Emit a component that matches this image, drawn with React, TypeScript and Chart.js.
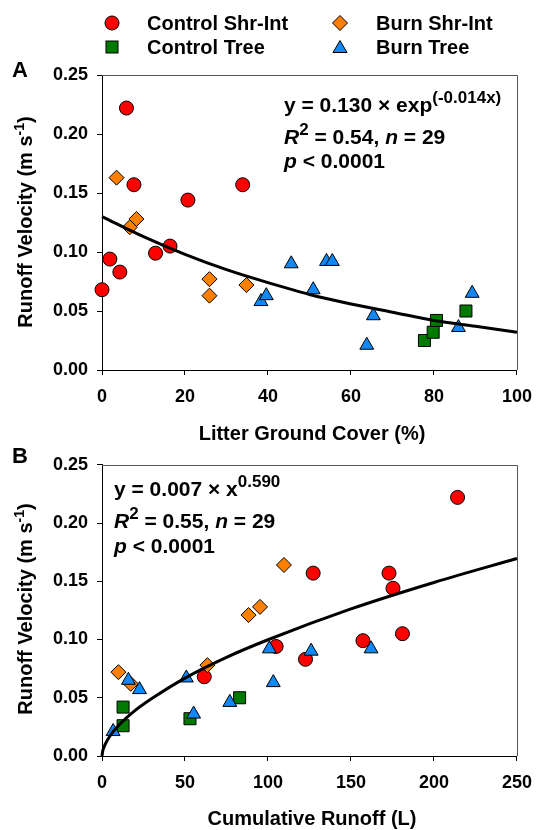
import React, { useEffect, useRef } from "react";
import { Chart, registerables } from "chart.js";

Chart.register(...registerables);

const FONT = "'Liberation Sans', Arial, Helvetica, sans-serif";

// ---------- Series names & colours ----------
const seriesNames = ["Control Shr-Int", "Burn Shr-Int", "Control Tree", "Burn Tree"];
const seriesColors = ["#ff0000", "#ff8000", "#007a00", "#1188f5"];

// ---------- Panel A: Litter ground cover (%) vs runoff velocity ----------
const aCtrlShrX = [0, 1.9, 4.3, 5.9, 7.7, 12.9, 16.4, 20.7, 33.9];
const aCtrlShrY = [0.068, 0.094, 0.083, 0.222, 0.157, 0.099, 0.105, 0.144, 0.157];
const aBurnShrX = [3.5, 6.7, 8.3, 25.9, 25.9, 34.8];
const aBurnShrY = [0.163, 0.121, 0.128, 0.077, 0.063, 0.072];
const aCtrlTreeX = [77.7, 79.8, 80.6, 87.7];
const aCtrlTreeY = [0.025, 0.032, 0.042, 0.05];
const aBurnTreeX = [38.3, 39.6, 45.6, 50.9, 54.1, 55.5, 63.8, 65.4, 85.9, 89.2];
const aBurnTreeY = [0.058, 0.063, 0.09, 0.068, 0.092, 0.092, 0.021, 0.046, 0.036, 0.065];
// fitted curve
const fitAX = [0, 10, 20, 30, 40, 50, 60, 70, 80, 90, 100];
const fitAY = [0.13, 0.113, 0.098, 0.085, 0.074, 0.064, 0.056, 0.049, 0.042, 0.037, 0.032];

// ---------- Panel B: Cumulative runoff (L) vs runoff velocity ----------
const bCtrlShrX = [61.6, 104.9, 122.6, 127.2, 157.2, 172.9, 175.3, 181.0, 214.2];
const bCtrlShrY = [0.068, 0.094, 0.083, 0.157, 0.099, 0.157, 0.144, 0.105, 0.222];
const bBurnShrX = [9.9, 17.3, 63.5, 88.3, 95.2, 109.6];
const bBurnShrY = [0.072, 0.062, 0.078, 0.121, 0.128, 0.164];
const bCtrlTreeX = [12.7, 12.7, 53.0, 82.9];
const bCtrlTreeY = [0.042, 0.026, 0.032, 0.05];
const bBurnTreeX = [6.7, 15.9, 22.6, 50.8, 55.2, 77.0, 100.8, 103.2, 126.0, 162.1];
const bBurnTreeY = [0.021, 0.065, 0.057, 0.067, 0.036, 0.046, 0.092, 0.063, 0.09, 0.092];
// fitted curve
const fitBX = [0, 0.5, 1, 2, 5, 10, 20, 30, 50, 75, 100, 150, 200, 250];
const fitBY = [0, 0.0047, 0.0069, 0.0103, 0.0176, 0.0262, 0.0391, 0.0493, 0.0669, 0.0847, 0.0998, 0.1263, 0.149, 0.1695];

// ---------- Axis ticks ----------
const yTicks = [0, 0.05, 0.1, 0.15, 0.2, 0.25];
const xTicksA = [0, 20, 40, 60, 80, 100];
const xTicksB = [0, 50, 100, 150, 200, 250];

const toPts = (xs: number[], ys: number[]) => xs.map((x, i) => ({ x, y: ys[i] }));

const framePlugin = {
  id: "frame",
  beforeDatasetsDraw(chart: any) {
    const { ctx, chartArea } = chart;
    const { left, right, top, bottom } = chartArea;
    ctx.save();
    ctx.strokeStyle = "#555";
    ctx.lineWidth = 1;
    ctx.beginPath();
    ctx.moveTo(left, Math.round(top) + 0.5);
    ctx.lineTo(Math.round(right) + 0.5, Math.round(top) + 0.5);
    ctx.lineTo(Math.round(right) + 0.5, bottom);
    ctx.stroke();
    ctx.restore();
  },
};

function buildConfig(
  sets: { x: number[]; y: number[] }[],
  fitX: number[],
  fitY: number[],
  xTicks: number[],
  padTop: number,
  xHeight: number
): any {
  const styles = ["circle", "rectRot", "rect", "triangle"];
  const radii = [7, 7.5, 8.5, 8];
  const orders = [4, 2, 3, 1];
  const datasets: any[] = sets.map((s, i) => ({
    label: seriesNames[i],
    data: toPts(s.x, s.y),
    pointStyle: styles[i],
    pointRadius: radii[i],
    pointBackgroundColor: seriesColors[i],
    pointBorderColor: "#000",
    pointBorderWidth: 1,
    showLine: false,
    clip: false,
    order: orders[i],
  }));
  datasets.push({
    label: "fit",
    data: toPts(fitX, fitY),
    showLine: true,
    borderColor: "#000",
    borderWidth: 3,
    pointRadius: 0,
    cubicInterpolationMode: "monotone",
    clip: false,
    order: 0,
  });
  const tickFont = { family: FONT, size: 18, weight: "bold" as const };
  return {
    type: "scatter",
    data: { datasets },
    options: {
      animation: false,
      responsive: false,
      events: [],
      layout: { padding: { top: padTop, right: 21, bottom: 0, left: 0 } },
      plugins: { legend: { display: false }, tooltip: { enabled: false } },
      scales: {
        x: {
          type: "linear",
          min: xTicks[0],
          max: xTicks[xTicks.length - 1],
          afterBuildTicks: (s: any) => {
            s.ticks = xTicks.map((v) => ({ value: v }));
          },
          afterFit: (s: any) => {
            s.height = xHeight;
          },
          ticks: { font: tickFont, color: "#000", padding: 11, maxRotation: 0, autoSkip: false },
          grid: { drawOnChartArea: false, drawTicks: true, tickLength: 5, color: "#000", tickColor: "#000" },
          border: { display: true, color: "#000", width: 1 },
        },
        y: {
          type: "linear",
          min: yTicks[0],
          max: yTicks[yTicks.length - 1],
          afterBuildTicks: (s: any) => {
            s.ticks = yTicks.map((v) => ({ value: v }));
          },
          afterFit: (s: any) => {
            s.width = 102;
          },
          ticks: {
            font: tickFont,
            color: "#000",
            padding: 9,
            autoSkip: false,
            callback: (v: any) => Number(v).toFixed(2),
          },
          grid: { drawOnChartArea: false, drawTicks: true, tickLength: 5, color: "#000", tickColor: "#000" },
          border: { display: true, color: "#000", width: 1 },
        },
      },
    },
    plugins: [framePlugin],
  };
}

const abs = (left: number, top: number, extra: React.CSSProperties = {}): React.CSSProperties => ({
  position: "absolute",
  left,
  top,
  whiteSpace: "nowrap",
  ...extra,
});

function Marker({ kind, color }: { kind: number; color: string }) {
  const common = { fill: color, stroke: "#000", strokeWidth: 1 };
  let shape: React.ReactNode;
  if (kind === 0) shape = <circle cx={9} cy={9} r={7} {...common} />;
  else if (kind === 1) shape = <polygon points="9,1.5 16.5,9 9,16.5 1.5,9" {...common} />;
  else if (kind === 2) shape = <rect x={3} y={3} width={12} height={12} {...common} />;
  else shape = <polygon points="9,2.5 16,14.5 2,14.5" {...common} />;
  return (
    <svg width={18} height={18} style={{ display: "block" }}>
      {shape}
    </svg>
  );
}

const legendPos = [
  { mx: 112, tx: 147, y: 23 },
  { mx: 340, tx: 376, y: 23 },
  { mx: 112, tx: 147, y: 47 },
  { mx: 340, tx: 376, y: 47 },
];

const EQ = 21;
const supStyle: React.CSSProperties = { fontSize: 17, position: "relative", top: -9 };

function EqLine({ left, cy, children }: { left: number; cy: number; children: React.ReactNode }) {
  return (
    <div style={abs(left, cy - 12, { height: 24, lineHeight: "24px", fontSize: EQ, fontWeight: "bold" })}>
      {children}
    </div>
  );
}

function YTitle({ cy }: { cy: number }) {
  return (
    <div
      style={{
        position: "absolute",
        left: 26,
        top: cy,
        transform: "translate(-50%, -50%) rotate(-90deg)",
        whiteSpace: "nowrap",
        fontSize: 20,
        fontWeight: "bold",
        lineHeight: "24px",
      }}
    >
      Runoff Velocity (m s<span style={{ fontSize: 14, position: "relative", top: -8 }}>-1</span>)
    </div>
  );
}

function XTitle({ cy, text }: { cy: number; text: string }) {
  return (
    <div
      style={{
        position: "absolute",
        left: 312,
        top: cy,
        transform: "translate(-50%, -50%)",
        whiteSpace: "nowrap",
        fontSize: 20,
        fontWeight: "bold",
        lineHeight: "24px",
      }}
    >
      {text}
    </div>
  );
}

export default function App() {
  const refA = useRef<HTMLCanvasElement>(null);
  const refB = useRef<HTMLCanvasElement>(null);

  useEffect(() => {
    const ca = new Chart(
      refA.current as HTMLCanvasElement,
      buildConfig(
        [
          { x: aCtrlShrX, y: aCtrlShrY },
          { x: aBurnShrX, y: aBurnShrY },
          { x: aCtrlTreeX, y: aCtrlTreeY },
          { x: aBurnTreeX, y: aBurnTreeY },
        ],
        fitAX,
        fitAY,
        xTicksA,
        75,
        75
      )
    );
    const cb = new Chart(
      refB.current as HTMLCanvasElement,
      buildConfig(
        [
          { x: bCtrlShrX, y: bCtrlShrY },
          { x: bBurnShrX, y: bBurnShrY },
          { x: bCtrlTreeX, y: bCtrlTreeY },
          { x: bBurnTreeX, y: bBurnTreeY },
        ],
        fitBX,
        fitBY,
        xTicksB,
        17,
        74
      )
    );
    return () => {
      ca.destroy();
      cb.destroy();
    };
  }, []);

  return (
    <div
      style={{
        position: "absolute",
        left: 0,
        top: 0,
        width: 543,
        height: 830,
        background: "#fff",
        fontFamily: FONT,
        color: "#000",
        overflow: "hidden",
      }}
    >
      <canvas ref={refA} width={543} height={445} style={{ position: "absolute", left: 0, top: 0 }} />
      <canvas ref={refB} width={543} height={385} style={{ position: "absolute", left: 0, top: 445 }} />

      {/* Legend */}
      {seriesNames.map((name, i) => (
        <React.Fragment key={name}>
          <div style={abs(legendPos[i].mx - 9, legendPos[i].y - 9)}>
            <Marker kind={i} color={seriesColors[i]} />
          </div>
          <div
            style={abs(legendPos[i].tx, legendPos[i].y - 12, {
              height: 24,
              lineHeight: "24px",
              fontSize: 20,
              fontWeight: "bold",
            })}
          >
            {name}
          </div>
        </React.Fragment>
      ))}

      {/* Panel letters */}
      <div style={abs(12, 58, { fontSize: 22, fontWeight: "bold", lineHeight: "24px" })}>A</div>
      <div style={abs(12, 444, { fontSize: 22, fontWeight: "bold", lineHeight: "24px" })}>B</div>

      {/* Axis titles */}
      <YTitle cy={222} />
      <YTitle cy={609} />
      <XTitle cy={433} text="Litter Ground Cover (%)" />
      <XTitle cy={818} text="Cumulative Runoff (L)" />

      {/* Equations panel A */}
      <EqLine left={284} cy={105}>
        y = 0.130 × exp<span style={supStyle}>(-0.014x)</span>
      </EqLine>
      <EqLine left={284} cy={137}>
        <i>R</i>
        <span style={supStyle}>2</span> = 0.54, <i>n</i> = 29
      </EqLine>
      <EqLine left={284} cy={161}>
        <i>p</i> &lt; 0.0001
      </EqLine>

      {/* Equations panel B */}
      <EqLine left={114} cy={489}>
        y = 0.007 × x<span style={supStyle}>0.590</span>
      </EqLine>
      <EqLine left={114} cy={521}>
        <i>R</i>
        <span style={supStyle}>2</span> = 0.55, <i>n</i> = 29
      </EqLine>
      <EqLine left={114} cy={546}>
        <i>p</i> &lt; 0.0001
      </EqLine>
    </div>
  );
}
